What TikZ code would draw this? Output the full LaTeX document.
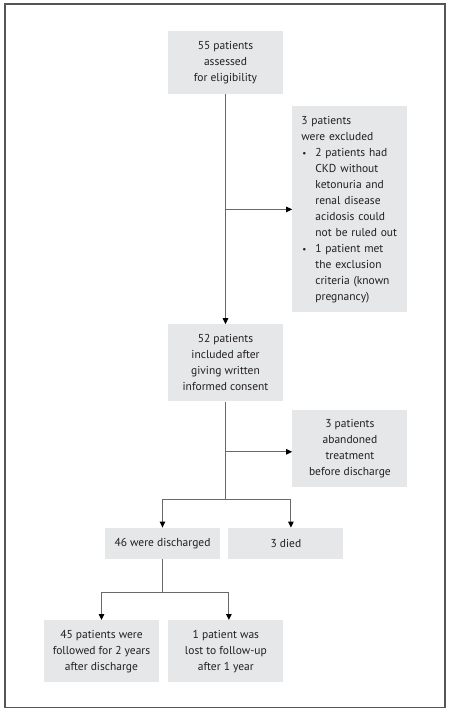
\documentclass[tikz,border=0pt]{standalone}
\usepackage{fontspec}
\setmainfont{PT Sans}
\usetikzlibrary{positioning, arrows.meta}
\definecolor{boxgray}{RGB}{230, 231, 232}
\definecolor{linegray}{RGB}{105, 105, 105}
\definecolor{framegray}{RGB}{85, 85, 85}
\definecolor{ink}{RGB}{35, 31, 32}
\newcommand{\bul}{\makebox[14pt][l]{\hspace{1pt}{\fontsize{9}{9}\selectfont •}}}

\begin{document}
\begin{tikzpicture}[
        x=1pt, y=1pt,
        box/.style={rectangle, fill=boxgray, text=ink, minimum width=115pt, minimum height=#1, align=center, inner xsep=2pt, inner ysep=0pt, font=\fontsize{11.5}{16}\selectfont},
        box/.default=31pt,
        note/.style={rectangle, fill=boxgray, text=ink, text width=97pt, minimum height=#1, align=left, inner xsep=9pt, inner ysep=0pt, font=\fontsize{11.5}{16}\selectfont},
        trunk/.style={draw=linegray, line width=1pt},
        link/.style={trunk, -{Triangle[length=6pt, width=5.5pt, color=black]}}
    ]
        \useasboundingbox (0,0) rectangle (449,-713);
        \draw[framegray, line width=1.5pt] (5,-4) rectangle (445,-707.5);

        \node (assessed) [box=63pt] at (225.5,-62.5) {55 patients\\assessed\\for eligibility};
        \node (included) [box=77pt, below=230pt of assessed] {52 patients\\included after\\giving written\\informed consent};
        \node (excluded) [note=206pt, below right=12pt and 9pt of assessed] {3 patients\\were excluded\\
            \bul 2 patients had\\\hspace*{14pt}CKD without\\\hspace*{14pt}ketonuria and\\\hspace*{14pt}renal disease\\\hspace*{14pt}acidosis could\\\hspace*{14pt}not be ruled out\\
            \bul 1 patient met\\\hspace*{14pt}the exclusion\\\hspace*{14pt}criteria (known\\\hspace*{14pt}pregnancy)};
        \node (abandoned) [box=77pt, below right=8pt and 9pt of included] {3 patients\\abandoned\\treatment\\before discharge};
        \node (discharged) [box, below=126pt of included, xshift=-63pt] {46 were discharged};
        \node (died) [box, right=8pt of discharged] {3 died};
        \node (followed) [box=62pt, below=61pt of discharged, xshift=-61pt] {45 patients were\\followed for 2 years\\after discharge};
        \node (lost) [box=62pt, right=9pt of followed] {1 patient was\\lost to follow-up\\after 1 year};

        \coordinate (split) at ([yshift=28pt]discharged.north);
        \coordinate (fork) at ([yshift=28pt]followed.north);

        \draw[link] (assessed) -- (included);
        \draw[link] (assessed.south |- excluded.west) -- (excluded);
        \draw[link] ([yshift=-3.5pt]included.south |- abandoned.west) -- ([yshift=-3.5pt]abandoned.west);
        \draw[trunk] (included) -- (included.south |- split);
        \draw[link] (included.south |- split) -| (discharged);
        \draw[link] (included.south |- split) -| ([xshift=5pt]died.north);
        \draw[trunk] (discharged) -- (discharged.south |- fork);
        \draw[link] (discharged.south |- fork) -| (followed);
        \draw[link] (discharged.south |- fork) -| ([xshift=3pt]lost.north);
    \end{tikzpicture}
\end{document}
